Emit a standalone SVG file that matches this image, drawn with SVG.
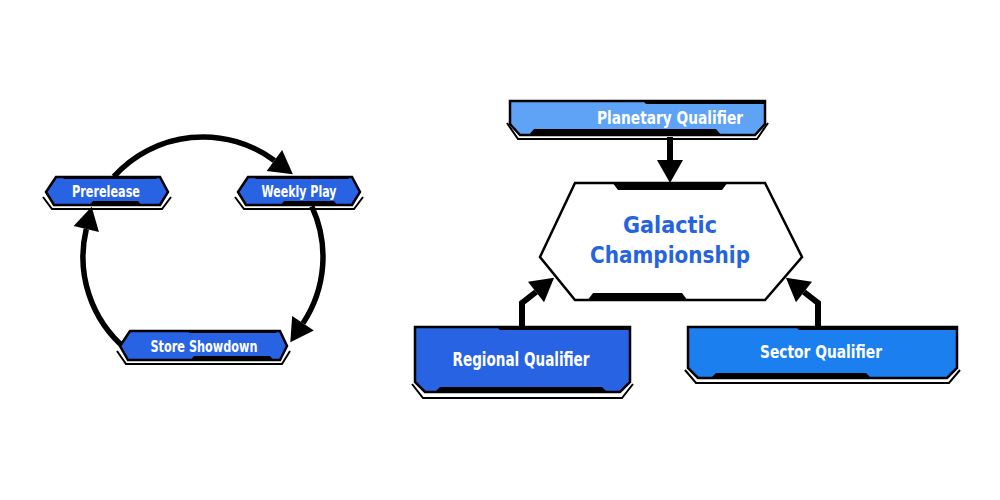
<svg xmlns="http://www.w3.org/2000/svg" width="1000" height="500" viewBox="0 0 1000 500">
<defs>
<style>
.bg{fill:#ffffff}
.main{stroke:#000;stroke-width:2.5;stroke-linejoin:miter}
.dark{fill:#2863e4}
.light{fill:#5ea3f6}
.mid{fill:#1c7ff0}
.shadow{fill:none;stroke:#000;stroke-width:2}
.bar{fill:#000}
.lbl{font-family:"Liberation Sans Narrow","DejaVu Sans Condensed","Liberation Sans",sans-serif;font-weight:bold;fill:#fff;text-anchor:middle}
.big{font-family:"Liberation Sans Narrow","DejaVu Sans Condensed","Liberation Sans",sans-serif;font-weight:bold;fill:#2563e0;text-anchor:middle;font-size:23px}
.arc{fill:none;stroke:#000;stroke-width:5.5}
.link{fill:none;stroke:#000;stroke-width:6;stroke-linejoin:miter}
</style>
<marker id="ah" markerUnits="userSpaceOnUse" markerWidth="26" markerHeight="28" refX="0" refY="13" orient="auto" overflow="visible">
<path d="M0,0 L23,13 L0,26 Z" fill="#000"/>
</marker>
</defs>
<rect class="bg" x="0" y="0" width="1000" height="500"/>

<g id="connectors">
<path class="arc" d="M113.8,176.7 A120 120 0 0 1 274.4,160.5" marker-end="url(#ah)"/>
<path class="arc" d="M311.8,206.3 A120 120 0 0 1 303,323.2" marker-end="url(#ah)"/>
<path class="arc" d="M125.9,349 A120 120 0 0 1 86.3,229" marker-end="url(#ah)"/>
<path class="link" d="M670,137 V160" marker-end="url(#ah)"/>
<path class="link" d="M522,328 V303 L536,292" marker-end="url(#ah)"/>
<path class="link" d="M818,328 V303 L804,292" marker-end="url(#ah)"/>
</g>

<g id="prerelease">
<polyline class="shadow" points="43,197 52,209 162,209 171,197"/>
<polygon class="main dark" points="46,192 56,177 160,177 168,192 160,205 54,205"/>
<polygon class="bar" points="62,176 158,176 156,179 64,179"/>
<polygon class="bar" points="89,206 93,201 138,201 142,206"/>
<text class="lbl" x="106" y="197" font-size="15" textLength="68" lengthAdjust="spacingAndGlyphs">Prerelease</text>
</g>

<g id="weekly-play">
<polyline class="shadow" points="235,197 244,209 354,209 363,197"/>
<polygon class="main dark" points="238,192 248,177 352,177 360,192 352,205 246,205"/>
<polygon class="bar" points="254,176 350,176 348,179 256,179"/>
<polygon class="bar" points="280,206 284,201 334,201 338,206"/>
<text class="lbl" x="299" y="197" font-size="15" textLength="75" lengthAdjust="spacingAndGlyphs">Weekly Play</text>
</g>

<g id="store-showdown">
<polyline class="shadow" points="117,351 126,364 282,364 290,351"/>
<polygon class="main dark" points="120,346 130,331 280,331 287,346 280,360 128,360"/>
<polygon class="bar" points="186,330 278,330 276,333 190,333"/>
<polygon class="bar" points="190,361 194,356 270,356 274,361"/>
<text class="lbl" x="204" y="352" font-size="15" textLength="107" lengthAdjust="spacingAndGlyphs">Store Showdown</text>
</g>

<g id="planetary-qualifier">
<polyline class="shadow" points="507,123 518,139 757,139 768,123"/>
<polygon class="main light" points="510,101 765,101 765,124 755,135 520,135 510,124"/>
<polygon class="bar" points="642,100 766,100 766,104 646,104"/>
<polygon class="bar" points="528,136 534,129 716,129 722,136"/>
<text class="lbl" x="670" y="124" font-size="17" textLength="146" lengthAdjust="spacingAndGlyphs">Planetary Qualifier</text>
</g>

<g id="galactic-championship">
<polygon class="main" fill="#fff" stroke-width="3.5" points="540,257 575,183 765,183 802,257 765,300 575,300"/>
<polygon class="bar" points="612,182 728,182 722,190 618,190"/>
<polygon class="bar" points="587,301 593,293 682,293 688,301"/>
<text class="big" x="670" y="233" textLength="94" lengthAdjust="spacingAndGlyphs">Galactic</text>
<text class="big" x="670" y="263" textLength="160" lengthAdjust="spacingAndGlyphs">Championship</text>
</g>

<g id="regional-qualifier">
<polyline class="shadow" points="412,384 423,398 622,398 633,384"/>
<polygon class="main dark" points="415,327 630,327 630,382 620,392 425,392 415,382"/>
<polygon class="bar" points="496,326 631,326 631,330 500,330"/>
<polygon class="bar" points="434,393 440,387 602,387 608,393"/>
<text class="lbl" x="521" y="366" font-size="19" textLength="137" lengthAdjust="spacingAndGlyphs">Regional Qualifier</text>
</g>

<g id="sector-qualifier">
<polyline class="shadow" points="685,370 696,383 949,383 960,370"/>
<polygon class="main mid" points="688,327 957,327 957,368 947,378 698,378 688,368"/>
<polygon class="bar" points="795,326 958,326 958,330 799,330"/>
<polygon class="bar" points="710,379 716,373 866,373 872,379"/>
<text class="lbl" x="821" y="358" font-size="18" textLength="122" lengthAdjust="spacingAndGlyphs">Sector Qualifier</text>
</g>
</svg>
